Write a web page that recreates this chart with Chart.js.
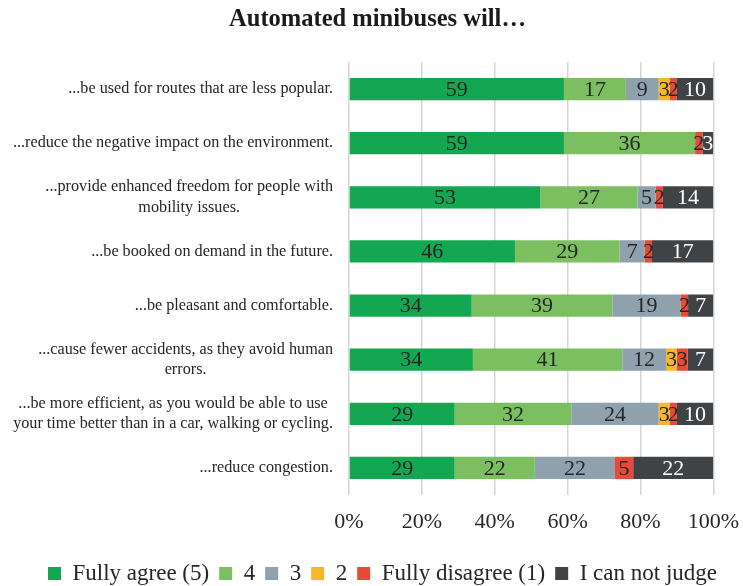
<!DOCTYPE html>
<html><head><meta charset="utf-8">
<script src="https://cdn.jsdelivr.net/npm/chart.js@4/dist/chart.umd.min.js"></script>
<style>html,body{margin:0;padding:0;background:#fff}#wrap{width:743px;height:586px;position:relative}</style>
</head><body><div id="wrap"><canvas id="c"></canvas></div>
<script>
const categories = [
  ["...be used for routes that are less popular."],
  ["...reduce the negative impact on the environment."],
  ["...provide enhanced freedom for people with", "mobility issues."],
  ["...be booked on demand in the future."],
  ["...be pleasant and comfortable."],
  ["...cause fewer accidents, as they avoid human", "errors."],
  ["...be more efficient, as you would be able to use", "your time better than in a car, walking or cycling."],
  ["...reduce congestion."]
];
const chartTitle = "Automated minibuses will…";
const seriesNames = ["Fully agree (5)", "4", "3", "2", "Fully disagree (1)", "I can not judge"];
const fullyAgree    = [59, 59, 53, 46, 34, 34, 29, 29];
const agree4        = [17, 36, 27, 29, 39, 41, 32, 22];
const neutral3      = [9, 0, 5, 7, 19, 12, 24, 22];
const disagree2     = [3, 0, 0, 0, 0, 3, 3, 0];
const fullyDisagree = [2, 2, 2, 2, 2, 3, 2, 5];
const cannotJudge   = [10, 3, 14, 17, 7, 7, 10, 22];
const xTickLabels = ["0%", "20%", "40%", "60%", "80%", "100%"];
const seriesColors = ["#14A752", "#7BBF61", "#90A1AE", "#F6B828", "#E64B36", "#404346"];

const rawSeries = [fullyAgree, agree4, neutral3, disagree2, fullyDisagree, cannotJudge];
const totals = categories.map((_, i) => rawSeries.reduce((s, arr) => s + arr[i], 0));

const SERIF = '"Liberation Serif", "Times New Roman", serif';

const datasets = rawSeries.map((arr, k) => ({
  label: seriesNames[k],
  data: arr.map((v, i) => v / totals[i] * 100),
  raw: arr,
  backgroundColor: seriesColors[k],
  borderWidth: 0,
  categoryPercentage: 1,
  barPercentage: 0.41
}));

const valueLabels = {
  id: 'valueLabels',
  afterDatasetsDraw(chart) {
    const ctx = chart.ctx;
    ctx.save();
    ctx.font = '22px ' + SERIF;
    ctx.textAlign = 'center';
    ctx.textBaseline = 'middle';
    chart.data.datasets.forEach((ds, k) => {
      const meta = chart.getDatasetMeta(k);
      meta.data.forEach((el, i) => {
        const v = ds.raw[i];
        if (!v) return;
        const p = el.getProps(['x', 'y', 'base'], true);
        ctx.fillStyle = k === 5 ? '#ffffff' : '#262626';
        ctx.fillText(String(v), (p.x + p.base) / 2, p.y + 1);
      });
    });
    ctx.restore();
  }
};

const textPlugin = {
  id: 'textPlugin',
  afterLayout(chart) {
    const lg = chart.legend;
    if (lg) {
      const dx = 21, dy = 9;
      lg.left += dx; lg.right += dx; lg.top += dy; lg.bottom += dy;
    }
  },
  afterDraw(chart) {
    const ctx = chart.ctx;
    const ys = chart.scales.y;
    ctx.save();
    // title
    ctx.font = 'bold 24.5px ' + SERIF;
    ctx.fillStyle = '#1a1a1a';
    ctx.textAlign = 'center';
    ctx.textBaseline = 'middle';
    ctx.fillText(chartTitle, 377.5, 20);
    // category labels
    const rightEdge = 333;
    const lineH = 20.5;
    ctx.font = '16.2px ' + SERIF;
    ctx.fillStyle = '#262626';
    categories.forEach((lines, i) => {
      const y = ys.getPixelForValue(i);
      const widest = Math.max(...lines.map(l => ctx.measureText(l).width));
      const cx = rightEdge - widest / 2;
      const y0 = y - (lines.length - 1) * lineH / 2;
      lines.forEach((l, j) => ctx.fillText(l, cx, y0 + j * lineH));
    });
    ctx.restore();
  }
};

new Chart(document.getElementById('c'), {
  type: 'bar',
  data: { labels: categories.map(c => c.join(' ')), datasets },
  options: {
    indexAxis: 'y',
    responsive: true,
    maintainAspectRatio: false,
    animation: false,
    layout: { padding: { left: 0, right: 20, top: 62, bottom: 0 } },
    scales: {
      x: {
        stacked: true,
        min: 0, max: 100,
        grid: { color: '#d6d6d6', lineWidth: 1.5, drawTicks: true, tickLength: 10, tickColor: 'rgba(0,0,0,0)' },
        border: { display: false },
        ticks: {
          stepSize: 20,
          padding: 4,
          color: '#262626',
          font: { family: SERIF, size: 22 },
          callback: (v) => xTickLabels[Math.round(v / 20)]
        },
        afterFit: (s) => { s.height = 48; }
      },
      y: {
        stacked: true,
        grid: { display: false },
        border: { display: false },
        ticks: { display: false },
        afterFit: (s) => { s.width = 349; }
      }
    },
    plugins: {
      title: { display: false },
      legend: {
        position: 'bottom',
        labels: {
          color: '#262626',
          font: { family: SERIF, size: 23 },
          boxWidth: 13,
          boxHeight: 13,
          padding: 10
        }
      },
      tooltip: { enabled: false }
    }
  },
  plugins: [valueLabels, textPlugin]
});
</script>
</body></html>
